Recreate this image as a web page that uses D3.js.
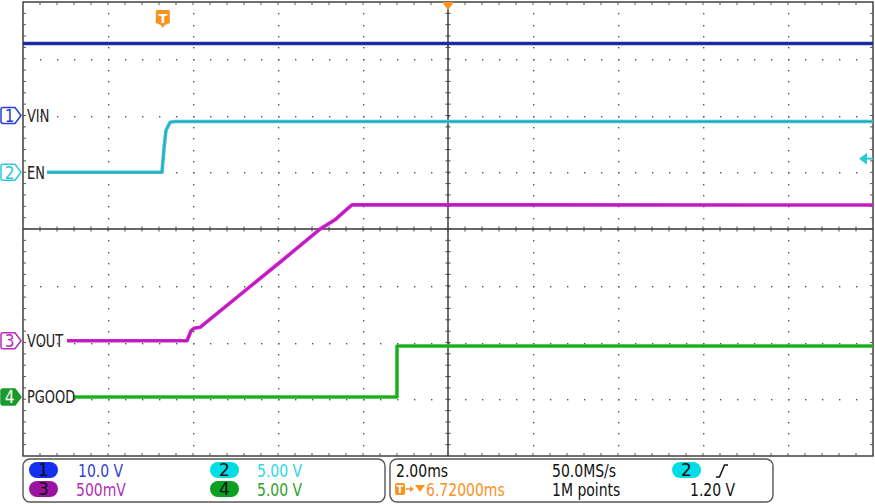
<!DOCTYPE html>
<html>
<head>
<meta charset="utf-8">
<script src="https://cdn.jsdelivr.net/npm/d3@7"></script>
<style>
  html, body { margin: 0; padding: 0; background: #fff; }
  svg { display: block; }
</style>
</head>
<body>
<svg id="chart" width="875" height="504"></svg>
<script>
// ---------------- data (time in ms from left edge of screen, values in volts) ----------------
const channelNames   = ["VIN", "EN", "VOUT", "PGOOD"];
const channelScales  = [10.0, 5.00, 0.500, 5.00];     // V/div
const channelOffsets = [2.0, 1.0, -1.97, -2.96];      // divisions from centre
const channelScaleLabels = ["10.0 V", "5.00 V", "500mV", "5.00 V"];

const vinTime  = [0, 20];
const vinVolts = [12.7, 12.7];

const enTime  = [0.565, 3.27, 3.32, 3.365, 3.46, 3.58, 20];
const enVolts = [0, 0, 2.2, 3.7, 4.4, 4.47, 4.47];

const voutTime  = [1.035, 3.859, 3.953, 4.024, 4.165, 6.047, 6.988, 7.341, 7.576, 7.741, 20];
const voutVolts = [0, 0, 0.088, 0.11, 0.119, 0.692, 0.984, 1.066, 1.145, 1.198, 1.196];

const pgTime  = [1.176, 8.8, 8.8, 20];
const pgVolts = [0, 0, 4.49, 4.49];

const timeDivLabel   = "2.00ms";
const sampleRate     = "50.0MS/s";
const recordLength   = "1M points";
const triggerDelay   = "6.72000ms";
const triggerLevel   = 1.20;          // V on CH2
const triggerLevelLabel = "1.20 V";
const triggerTime    = 3.29;          // ms from left edge

// ---------------- layout ----------------
const svg = d3.select("#chart");
const L = 23, T = 2, W = 850, H = 454;
const x = d3.scaleLinear().domain([0, 20]).range([L, L + W]);
const ydiv = d3.scaleLinear().domain([-4, 4]).range([T + H, T]);
const chY = (ch, v) => ydiv(v / channelScales[ch] + channelOffsets[ch]);

const gridColor = "#555";
const g = svg.append("g");

// dotted grid
const dx = W / 10, dy = H / 8;
for (let i = 1; i < 10; i++) {
  if (i === 5) continue;
  const xx = Math.round(L + i * dx);
  for (let j = 1; j < 40; j++) {
    g.append("rect").attr("x", xx).attr("y", Math.round(T + j * dy / 5)).attr("width", 1.4).attr("height", 1.4).attr("fill", gridColor);
  }
}
for (let j = 1; j < 8; j++) {
  if (j === 4) continue;
  const yy = Math.round(T + j * dy);
  for (let i = 1; i < 50; i++) {
    g.append("rect").attr("x", Math.round(L + i * dx / 5)).attr("y", yy).attr("width", 1.4).attr("height", 1.4).attr("fill", gridColor);
  }
}
// centre axes
const cx = L + W / 2, cy = T + H / 2;
g.append("line").attr("x1", cx).attr("x2", cx).attr("y1", T).attr("y2", T + H).attr("stroke", "#333").attr("stroke-width", 1.4);
g.append("line").attr("x1", L).attr("x2", L + W).attr("y1", cy).attr("y2", cy).attr("stroke", "#333").attr("stroke-width", 1.4);
for (let j = 1; j < 40; j++) {
  const yy = T + j * dy / 5;
  g.append("line").attr("x1", cx - 2.5).attr("x2", cx + 2.5).attr("y1", yy).attr("y2", yy).attr("stroke", "#444").attr("stroke-width", 1);
}
for (let i = 1; i < 50; i++) {
  const xx = L + i * dx / 5;
  g.append("line").attr("x1", xx).attr("x2", xx).attr("y1", cy - 2.5).attr("y2", cy + 2.5).attr("stroke", "#444").attr("stroke-width", 1);
}
// border
g.append("rect").attr("x", L).attr("y", T).attr("width", W).attr("height", H).attr("fill", "none").attr("stroke", "#333").attr("stroke-width", 1.4);
for (let i = 1; i < 50; i++) {
  const xx = L + i * dx / 5;
  g.append("line").attr("x1", xx).attr("x2", xx).attr("y1", T).attr("y2", T + 3).attr("stroke", "#555");
  g.append("line").attr("x1", xx).attr("x2", xx).attr("y1", T + H - 3).attr("y2", T + H).attr("stroke", "#555");
}
for (let j = 1; j < 40; j++) {
  const yy = T + j * dy / 5;
  g.append("line").attr("x1", L).attr("x2", L + 3).attr("y1", yy).attr("y2", yy).attr("stroke", "#555");
  g.append("line").attr("x1", L + W - 3).attr("x2", L + W).attr("y1", yy).attr("y2", yy).attr("stroke", "#555");
}

// ---------------- traces ----------------
const series = [
  { ch: 0, t: vinTime,  v: vinVolts,  outer: "#1f30a8", inner: "#14208a" },
  { ch: 1, t: enTime,   v: enVolts,   outer: "#3cc3d3", inner: "#1e8aa3" },
  { ch: 2, t: voutTime, v: voutVolts, outer: "#d01ed0", inner: "#8c208c" },
  { ch: 3, t: pgTime,   v: pgVolts,   outer: "#22bb22", inner: "#168c16" }
];
series.forEach(s => {
  const pts = s.t.map((t, i) => [t, s.v[i]]);
  const line = d3.line().x(d => x(d[0])).y(d => chY(s.ch, d[1]));
  svg.append("path").attr("d", line(pts)).attr("fill", "none").attr("stroke", s.outer).attr("stroke-width", 3.6).attr("stroke-linejoin", "round");
  svg.append("path").attr("d", line(pts)).attr("fill", "none").attr("stroke", s.inner).attr("stroke-width", 1).attr("opacity", 0.6);
});

// ---------------- channel markers & labels ----------------
const markerColors = ["#2a3fd0", "#2ec8dc", "#b52db8", "#1a9a2a"];
channelNames.forEach((name, ch) => {
  const yy = ydiv(channelOffsets[ch]);
  const filled = ch === 3;
  svg.append("path")
    .attr("d", `M3,${yy - 8} L15,${yy - 8} L21,${yy} L15,${yy + 8} L3,${yy + 8} Q1,${yy + 8} 1,${yy + 6} L1,${yy - 6} Q1,${yy - 8} 3,${yy - 8} Z`)
    .attr("fill", filled ? markerColors[ch] : "#fff")
    .attr("stroke", markerColors[ch]).attr("stroke-width", 1.5);
  svg.append("text").attr("transform", `translate(9.5,${yy + 6.5}) scale(0.85,1)`).attr("text-anchor", "middle")
    .attr("font-family", "DejaVu Sans").attr("font-size", 18)
    .attr("fill", filled ? "#fff" : markerColors[ch]).text(ch + 1);
  svg.append("text").attr("transform", `translate(27,${yy + 6.5}) scale(0.72,1)`)
    .attr("font-family", "DejaVu Sans").attr("font-size", 18).attr("fill", "#222").text(name);
});

// trigger position marker "T"
const orange = "#f7931e";
const tx = x(triggerTime);
svg.append("path").attr("d", `M${tx - 6},10 L${tx + 6},10 Q${tx + 7},10 ${tx + 7},12 L${tx + 7},23 L${tx + 2},25 L${tx},28 L${tx - 2},25 L${tx - 7},23 L${tx - 7},12 Q${tx - 7},10 ${tx - 6},10 Z`).attr("fill", orange);
svg.append("text").attr("x", tx).attr("y", 23).attr("text-anchor", "middle").attr("font-family", "DejaVu Sans").attr("font-weight", "bold").attr("font-size", 13).attr("fill", "#fff").text("T");
// horizontal position marker at top centre
svg.append("path").attr("d", `M${cx - 6},${T} L${cx + 6},${T} L${cx},${T + 8} Z`).attr("fill", orange);
// trigger level arrow (right side)
const ty = chY(1, triggerLevel);
svg.append("path").attr("d", `M${L + W - 14},${ty} L${L + W - 6},${ty - 6} L${L + W - 6},${ty + 6} Z`).attr("fill", "#2ec8dc");
svg.append("line").attr("x1", L + W - 7).attr("x2", L + W).attr("y1", ty).attr("y2", ty).attr("stroke", "#2ec8dc").attr("stroke-width", 2);

// ---------------- info panels ----------------
svg.append("rect").attr("x", 23).attr("y", 459).attr("width", 362).attr("height", 43).attr("rx", 7).attr("fill", "#fff").attr("stroke", "#555").attr("stroke-width", 1.4);
svg.append("rect").attr("x", 390).attr("y", 459).attr("width", 383).attr("height", 43).attr("rx", 7).attr("fill", "#fff").attr("stroke", "#555").attr("stroke-width", 1.4);

const pillColors = ["#1530f0", "#00dde6", "#9b139f", "#0aa020"];
const textColors = ["#3040d8", "#30d8e2", "#b030b8", "#30a030"];
const infoTxt = (xx, yy, str, color) =>
  svg.append("text").attr("transform", `translate(${xx},${yy}) scale(0.8,1)`)
    .attr("font-family", "DejaVu Sans").attr("font-size", 17.5).attr("fill", color).text(str);
const pill = (cxp, cyp, label, color) => {
  svg.append("rect").attr("x", cxp - 14.5).attr("y", cyp - 8).attr("width", 29).attr("height", 16).attr("rx", 8).attr("fill", color);
  svg.append("text").attr("x", cxp).attr("y", cyp + 6).attr("text-anchor", "middle").attr("font-family", "DejaVu Sans").attr("font-size", 17).attr("fill", "#111").text(label);
};
// channel order in panel: 1 (row1 left), 3 (row2 left), 2 (row1 right), 4 (row2 right)
const panelPos = [[43.5, 470, 78], [224.5, 470, 257], [43.5, 489, 76], [224.5, 489, 257]];
[0, 1, 2, 3].forEach(ch => {
  const p = panelPos[ch];
  pill(p[0], p[1], ch + 1, pillColors[ch]);
  infoTxt(p[2], p[1] + 7, channelScaleLabels[ch], textColors[ch]);
});

infoTxt(396, 477, timeDivLabel, "#111");
infoTxt(552, 477, sampleRate, "#111");
pill(686.5, 470, "2", pillColors[1]);
svg.append("path").attr("d", "M716,477 L719.5,477 L724.5,465 L728,465").attr("fill", "none").attr("stroke", "#111").attr("stroke-width", 1.5);
svg.append("rect").attr("x", 395).attr("y", 483).attr("width", 10).attr("height", 12).attr("rx", 2).attr("fill", orange);
svg.append("text").attr("x", 400).attr("y", 493).attr("text-anchor", "middle").attr("font-family", "DejaVu Sans").attr("font-weight", "bold").attr("font-size", 10).attr("fill", "#fff").text("T");
svg.append("line").attr("x1", 406).attr("x2", 412).attr("y1", 489).attr("y2", 489).attr("stroke", orange).attr("stroke-width", 1.6);
svg.append("path").attr("d", "M410,486 L414,489 L410,492 Z").attr("fill", orange);
svg.append("path").attr("d", "M415,485 L425,485 L420,492 Z").attr("fill", orange);
infoTxt(426, 496, triggerDelay, orange);
infoTxt(552, 496, recordLength, "#111");
infoTxt(690, 496, triggerLevelLabel, "#111");
</script>
</body>
</html>
